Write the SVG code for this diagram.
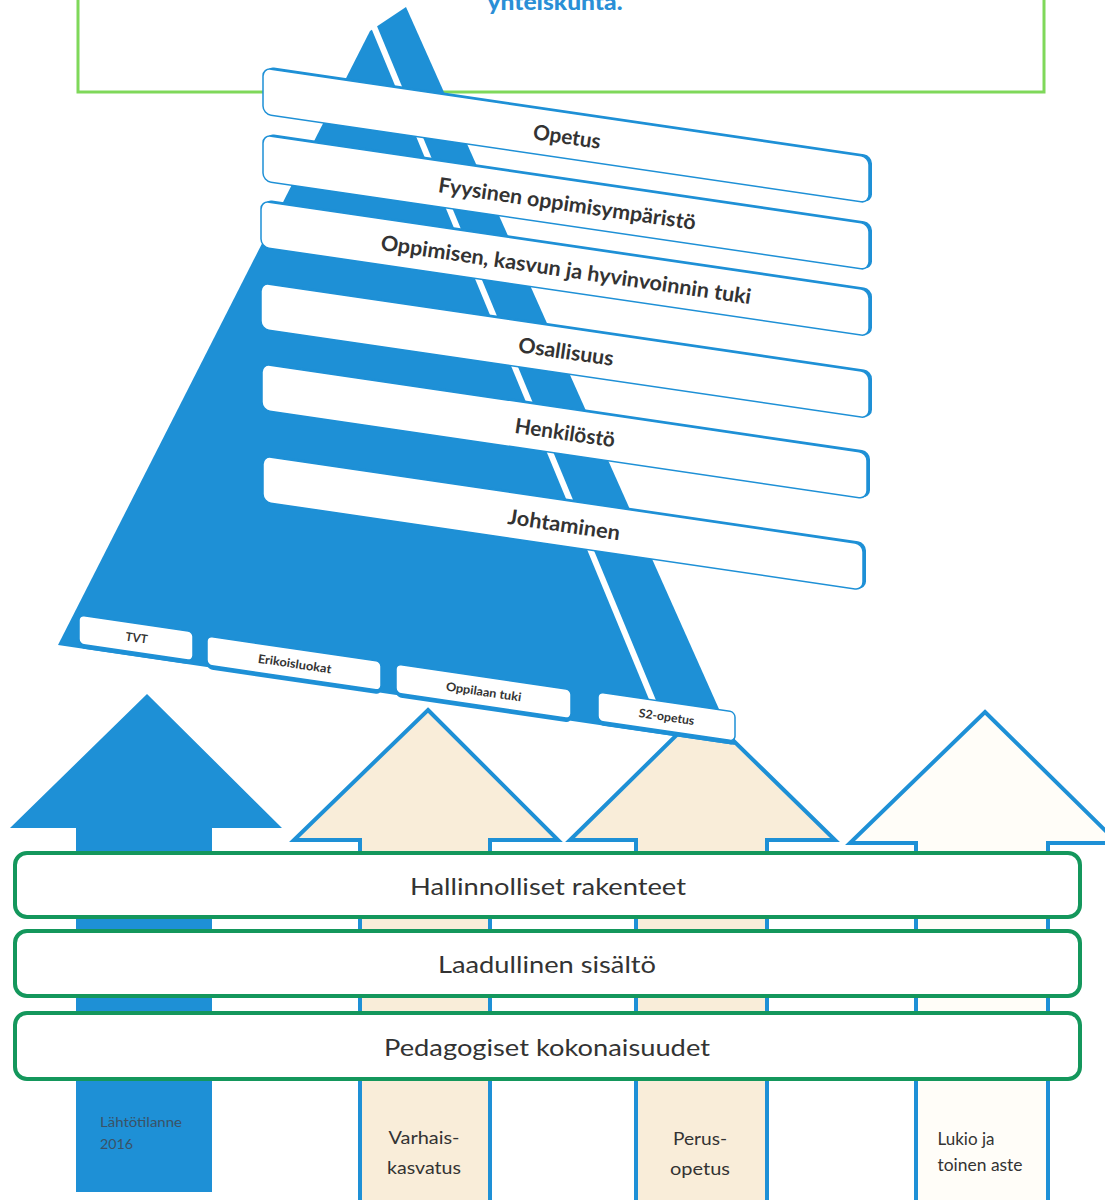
<svg xmlns="http://www.w3.org/2000/svg" width="1105" height="1200" viewBox="0 0 1105 1200">
<style>
.bg{fill:#ffffff}
.blue{fill:#1e90d6}
.beige{fill:#f9edd9;stroke:#1e90d6;stroke-width:4;stroke-linejoin:miter}
.pale{fill:#fffdf8;stroke:#1e90d6;stroke-width:4;stroke-linejoin:miter}
.gbox{fill:#ffffff;stroke:#14975c;stroke-width:4}
.gtxt{font-family:Lato,"Liberation Sans",sans-serif;font-size:24px;fill:#333333;text-anchor:middle}
.ptxt{font-family:Lato,"Liberation Sans",sans-serif;font-size:21px;font-weight:bold;fill:#333333;text-anchor:middle}
.stxt{font-family:Lato,"Liberation Sans",sans-serif;font-size:12px;font-weight:bold;fill:#333333;text-anchor:middle}
.atxt{font-family:Lato,"Liberation Sans",sans-serif;font-size:17px;fill:#333333;text-anchor:middle}
.ltxt{font-family:"Liberation Sans Narrow",Lato,"Liberation Sans",sans-serif;font-size:14px;fill:#3a5266}
.shadow{fill:#1e90d6}
.card{fill:#ffffff;stroke:#1e90d6;stroke-width:1.5}
</style>
<rect class="bg" x="0" y="0" width="1105" height="1200"/>

<g id="top-box">
<rect x="78" y="-10" width="966" height="102" fill="none" stroke="#7fd85a" stroke-width="3"/>
<text x="555" y="10" font-family="Lato,'Liberation Sans',sans-serif" font-size="23" font-weight="900" fill="#2a8fd6" text-anchor="middle" textLength="135" lengthAdjust="spacingAndGlyphs">yhteiskunta.</text>
</g>

<g id="arrows">
<g id="arrow-lahtotilanne">
<polygon class="blue" points="147,694 282,828 212,828 212,1192 76,1192 76,828 10,828"/>
<text class="ltxt" x="100" y="1127" textLength="82" lengthAdjust="spacingAndGlyphs">Lähtötilanne</text>
<text class="ltxt" x="100" y="1149" textLength="33" lengthAdjust="spacingAndGlyphs">2016</text>
</g>
<g id="arrow-varhaiskasvatus">
<polygon class="beige" points="428,710 558,840 490,840 490,1206 360,1206 360,840 294,840"/>
<text class="atxt" x="424" y="1144" textLength="71" lengthAdjust="spacingAndGlyphs">Varhais-</text>
<text class="atxt" x="424" y="1174" textLength="74" lengthAdjust="spacingAndGlyphs">kasvatus</text>
</g>
<g id="arrow-perusopetus">
<polygon class="beige" points="702,710 835,840 767,840 767,1206 636,1206 636,840 570,840"/>
<text class="atxt" x="700" y="1145" textLength="54" lengthAdjust="spacingAndGlyphs">Perus-</text>
<text class="atxt" x="700" y="1175" textLength="60" lengthAdjust="spacingAndGlyphs">opetus</text>
</g>
<g id="arrow-lukio">
<polygon class="pale" points="985,712 1118,843 1048,843 1048,1206 916,1206 916,843 850,843"/>
<text class="atxt" x="966" y="1145" font-size="15" textLength="57" lengthAdjust="spacingAndGlyphs">Lukio ja</text>
<text class="atxt" x="980" y="1171" font-size="15" textLength="85" lengthAdjust="spacingAndGlyphs">toinen aste</text>
</g>
</g>

<g id="box-hallinnolliset">
<rect class="gbox" x="15" y="853" width="1065" height="64" rx="12"/>
<text class="gtxt" x="548" y="895" textLength="276" lengthAdjust="spacingAndGlyphs">Hallinnolliset rakenteet</text>
</g>
<g id="box-laadullinen">
<rect class="gbox" x="15" y="931" width="1065" height="65" rx="12"/>
<text class="gtxt" x="547" y="973" textLength="218" lengthAdjust="spacingAndGlyphs">Laadullinen sisältö</text>
</g>
<g id="box-pedagogiset">
<rect class="gbox" x="15" y="1013" width="1065" height="66" rx="12"/>
<text class="gtxt" x="547" y="1056" textLength="326" lengthAdjust="spacingAndGlyphs">Pedagogiset kokonaisuudet</text>
</g>

<g id="pyramid">
<polygon class="blue" points="370,31 406,7 735,745 58,645"/>
<line x1="372" y1="22" x2="665" y2="730" stroke="#ffffff" stroke-width="6"/>
</g>

<g id="box-opetus" transform="translate(263,68)">
<g transform="skewY(8.35)">
<rect class="shadow" x="3" y="-2" width="606" height="47" rx="8"/>
<rect class="card" x="0" y="0" width="606" height="46" rx="8"/>
</g>
<text class="ptxt" transform="translate(303,76) rotate(8.35)" textLength="68" lengthAdjust="spacingAndGlyphs">Opetus</text>
</g>
<g id="box-fyysinen" transform="translate(263,135)">
<g transform="skewY(8.35)">
<rect class="shadow" x="3" y="-2" width="606" height="47" rx="8"/>
<rect class="card" x="0" y="0" width="606" height="46" rx="8"/>
</g>
<text class="ptxt" transform="translate(303,76) rotate(8.35)" textLength="260" lengthAdjust="spacingAndGlyphs">Fyysinen oppimisympäristö</text>
</g>
<g id="box-oppimisen" transform="translate(261,201)">
<g transform="skewY(8.35)">
<rect class="shadow" x="3" y="-2" width="608" height="47" rx="8"/>
<rect class="card" x="0" y="0" width="608" height="46" rx="8"/>
</g>
<text class="ptxt" transform="translate(304,76) rotate(8.35)" textLength="374" lengthAdjust="spacingAndGlyphs">Oppimisen, kasvun ja hyvinvoinnin tuki</text>
</g>
<g id="box-osallisuus" transform="translate(261,283)">
<g transform="skewY(8.35)">
<rect class="shadow" x="3" y="-2" width="608" height="47" rx="8"/>
<rect class="card" x="0" y="0" width="608" height="46" rx="8"/>
</g>
<text class="ptxt" transform="translate(304,76) rotate(8.35)" textLength="96" lengthAdjust="spacingAndGlyphs">Osallisuus</text>
</g>
<g id="box-henkilosto" transform="translate(262,364)">
<g transform="skewY(8.35)">
<rect class="shadow" x="3" y="-2" width="605" height="47" rx="8"/>
<rect class="card" x="0" y="0" width="605" height="46" rx="8"/>
</g>
<text class="ptxt" transform="translate(302,76) rotate(8.35)" textLength="101" lengthAdjust="spacingAndGlyphs">Henkilöstö</text>
</g>
<g id="box-johtaminen" transform="translate(263,456)">
<g transform="skewY(8.35)">
<rect class="shadow" x="3" y="-2" width="600" height="47" rx="8"/>
<rect class="card" x="0" y="0" width="600" height="46" rx="8"/>
</g>
<text class="ptxt" transform="translate(300,76) rotate(8.35)" textLength="113" lengthAdjust="spacingAndGlyphs">Johtaminen</text>
</g>

<g id="box-tvt" transform="translate(79,615)">
<g transform="skewY(8.35)">
<rect class="shadow" x="0" y="3" width="114" height="30" rx="5"/>
<rect class="card" x="0" y="0" width="114" height="29" rx="5"/>
</g>
<text class="stxt" transform="translate(57,27) rotate(8.35)" textLength="22" lengthAdjust="spacingAndGlyphs">TVT</text>
</g>
<g id="box-erikoisluokat" transform="translate(207,636)">
<g transform="skewY(8.35)">
<rect class="shadow" x="0" y="3" width="174" height="30" rx="5"/>
<rect class="card" x="0" y="0" width="174" height="29" rx="5"/>
</g>
<text class="stxt" transform="translate(87,32) rotate(8.35)" textLength="74" lengthAdjust="spacingAndGlyphs">Erikoisluokat</text>
</g>
<g id="box-oppilaan" transform="translate(396,664)">
<g transform="skewY(8.35)">
<rect class="shadow" x="0" y="3" width="175" height="30" rx="5"/>
<rect class="card" x="0" y="0" width="175" height="29" rx="5"/>
</g>
<text class="stxt" transform="translate(87,32) rotate(8.35)" textLength="76" lengthAdjust="spacingAndGlyphs">Oppilaan tuki</text>
</g>
<g id="box-s2" transform="translate(598,692)">
<g transform="skewY(8.35)">
<rect class="shadow" x="0" y="3" width="137" height="30" rx="5"/>
<rect class="card" x="0" y="0" width="137" height="29" rx="5"/>
</g>
<text class="stxt" transform="translate(68,29) rotate(8.35)" textLength="56" lengthAdjust="spacingAndGlyphs">S2-opetus</text>
</g>
</svg>
